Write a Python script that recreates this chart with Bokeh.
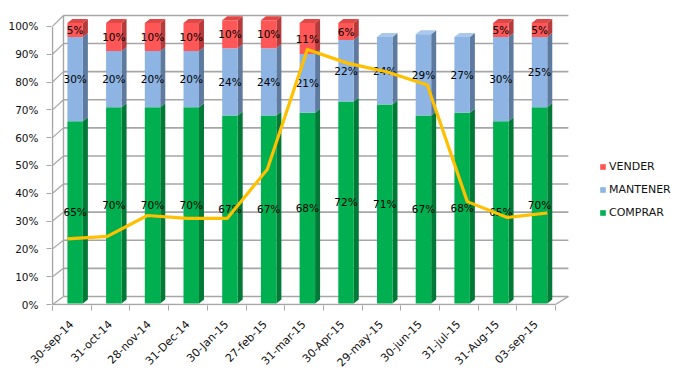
import math
from bokeh.plotting import figure
from bokeh.models import FixedTicker, Range1d, Legend, LegendItem
from bokeh.embed import file_html
from bokeh.resources import INLINE
from bokeh.core.properties import value

# ---------------- data ----------------
dates = ["30-sep-14", "31-oct-14", "28-nov-14", "31-Dec-14", "30-Jan-15", "27-feb-15",
         "31-mar-15", "30-Apr-15", "29-may-15", "30-jun-15", "31-jul-15", "31-Aug-15", "03-sep-15"]
comprar = [65, 70, 70, 70, 67, 67, 68, 72, 71, 67, 68, 65, 70]
mantener = [30, 20, 20, 20, 24, 24, 21, 22, 24, 29, 27, 30, 25]
vender = [5, 10, 10, 10, 10, 10, 11, 6, 0, 0, 0, 5, 5]
linea = [23.6, 24.5, 32.0, 31.0, 31.0, 48.6, 91.7, 86.8, 83.6, 78.9, 37.0, 31.3, 32.9]
y_ticks = [0, 10, 20, 30, 40, 50, 60, 70, 80, 90, 100]
series_names = ["COMPRAR", "MANTENER", "VENDER"]

# ---------------- layout / style ----------------
W, H = 681, 376
PXX = 38.7          # px per category slot
PXY = 2.79          # px per percent
LEFT, TOP, BOTTOM = 51, 5, 70
n = len(dates)
x0 = -1.0 / PXX
y0 = -1.0 / PXY
x1 = x0 + (W - LEFT) / PXX
y1 = y0 + (H - TOP - BOTTOM) / PXY

FONT = "DejaVu Sans"
GRID = "#a6a6a6"
front_cols = ["#00B050", "#8DB4E2", "#FF5757"]
side_cols = ["#007A36", "#5E7A9E", "#B83A3A"]
top_cols = ["#33C070", "#A9C8EC", "#E04848"]

DX = 0.284                 # wall depth in x
DYB, DYT = 2.9, 3.94       # wall depth in y at 0 and 100

def back_y(v):
    return DYB + v * (100 + DYT - DYB) / 100.0

BACK_R = n + 0.33
BL, BW = 0.385, 0.40       # bar front offset & width within slot
SDX, SDY = 5 / PXX, 4 / PXY

def bar_y(v):
    return 0.4 + 1.008 * v

p = figure(width=W, height=H, output_backend="svg", toolbar_location=None,
           x_range=Range1d(x0, x1), y_range=Range1d(y0, y1),
           min_border_left=LEFT, min_border_right=0, min_border_top=TOP,
           min_border_bottom=BOTTOM, outline_line_color=None,
           background_fill_color="white", border_fill_color="white")
p.xgrid.visible = False
p.ygrid.visible = False

# y axis
ya = p.yaxis[0]
ya.ticker = FixedTicker(ticks=y_ticks)
ya.major_label_overrides = {v: f"{v}%" for v in y_ticks}
ya.axis_line_color = None
ya.major_tick_line_color = GRID
ya.major_tick_out = 5
ya.major_tick_in = 0
ya.minor_tick_line_color = None
ya.major_label_standoff = 8
ya.major_label_text_font = FONT
ya.major_label_text_font_size = "10.5px"
ya.major_label_text_color = "#111111"

# x axis
xa = p.xaxis[0]
centers = [i + 0.5 for i in range(n)]
xa.ticker = FixedTicker(ticks=centers, minor_ticks=list(range(n + 1)))
xa.major_label_overrides = {c: d for c, d in zip(centers, dates)}
xa.major_label_orientation = math.pi / 4
xa.axis_line_color = None
xa.major_tick_line_color = None
xa.minor_tick_line_color = GRID
xa.minor_tick_out = 5
xa.minor_tick_in = 0
xa.major_label_standoff = 11
xa.major_label_text_font = FONT
xa.major_label_text_font_size = "11px"
xa.major_label_text_color = "#111111"

# walls
p.segment(x0=[DX] * len(y_ticks), x1=[BACK_R] * len(y_ticks),
          y0=[back_y(v) for v in y_ticks], y1=[back_y(v) for v in y_ticks],
          line_color=GRID, line_width=1.6)
p.segment(x0=[0] * len(y_ticks), x1=[DX] * len(y_ticks),
          y0=y_ticks, y1=[back_y(v) for v in y_ticks],
          line_color=GRID, line_width=1.2)
p.segment(x0=[0, DX, 0, n], x1=[0, DX, n, BACK_R],
          y0=[0, back_y(0), 0, 0], y1=[100, back_y(100), 0, back_y(0)],
          line_color=GRID, line_width=1.4)

# bars
stacks = [comprar, mantener, vender]
renderers = []
label_x, label_y, label_t = [], [], []
for s, vals in enumerate(stacks):
    fl, fr, fb, ft = [], [], [], []
    sx, sy, tx, ty = [], [], [], []
    for i in range(n):
        v = vals[i]
        if v <= 0:
            continue
        base = sum(stacks[k][i] for k in range(s))
        l, r = i + BL, i + BL + BW
        b, t = bar_y(base), bar_y(base + v)
        fl.append(l); fr.append(r); fb.append(b); ft.append(t)
        sx.append([r, r + SDX, r + SDX, r]); sy.append([b, b + SDY, t + SDY, t])
        is_top = all(stacks[k][i] == 0 for k in range(s + 1, len(stacks)))
        if is_top:
            tx.append([l, r, r + SDX, l + SDX]); ty.append([t, t, t + SDY, t + SDY])
        label_x.append(i + BL + BW / 2)
        label_y.append(bar_y(base + v / 2))
        label_t.append(f"{v}%")
    p.patches(xs=sx, ys=sy, fill_color=side_cols[s], line_color=None)
    if tx:
        p.patches(xs=tx, ys=ty, fill_color=top_cols[s], line_color=None)
    rr = p.quad(left=fl, right=fr, bottom=fb, top=ft, fill_color=front_cols[s], line_color=None)
    renderers.append(rr)

p.text(x=label_x, y=label_y, text=label_t, text_font=value(FONT), text_font_size="10.5px",
       text_align="center", text_baseline="middle", text_color="#000000")

# line
lx_start, lx_end = BL, n - 1 + BL + BW
line_x = [lx_start + k * (lx_end - lx_start) / (n - 1) for k in range(n)]
p.line(x=line_x, y=linea, line_color="#FFC000", line_width=3.2, line_join="round")

legend = Legend(items=[LegendItem(label=series_names[2], renderers=[renderers[2]]),
                       LegendItem(label=series_names[1], renderers=[renderers[1]]),
                       LegendItem(label=series_names[0], renderers=[renderers[0]])],
                location=(548, 86), orientation="vertical",
                border_line_color=None, background_fill_alpha=0,
                glyph_width=7, glyph_height=7, label_standoff=3,
                label_text_font=FONT, label_text_font_size="11px",
                label_text_color="#111111", label_height=12, spacing=10,
                padding=0, margin=0)
p.add_layout(legend)

open("out.html", "w").write(file_html(p, INLINE))
